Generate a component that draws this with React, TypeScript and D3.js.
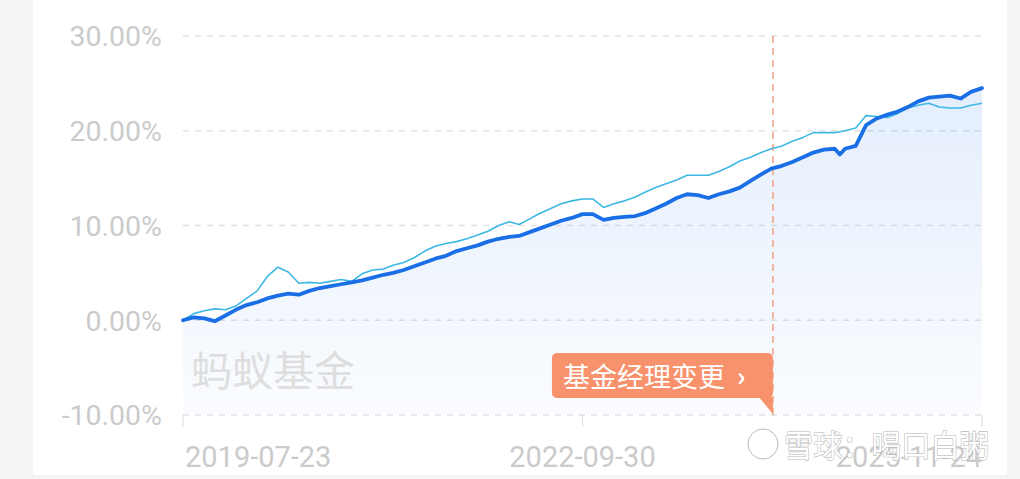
import React from "react";
import * as d3 from "d3";

const dates = [
  "2019-07-23","2019-08-23","2019-09-23","2019-10-23","2019-11-23","2019-12-23",
  "2020-01-23","2020-02-23","2020-03-23","2020-04-23","2020-05-23","2020-06-23",
  "2020-07-23","2020-08-23","2020-09-23","2020-10-23","2020-11-23","2020-12-23",
  "2021-01-23","2021-02-23","2021-03-23","2021-04-23","2021-05-23","2021-06-23",
  "2021-07-23","2021-08-23","2021-09-23","2021-10-23","2021-11-23","2021-12-23",
  "2022-01-23","2022-02-23","2022-03-23","2022-04-23","2022-05-23","2022-06-23",
  "2022-07-23","2022-08-23","2022-09-23","2022-10-23","2022-11-23","2022-12-23",
  "2023-01-23","2023-02-23","2023-03-23","2023-04-23","2023-05-23","2023-06-23",
  "2023-07-23","2023-08-23","2023-09-23","2023-10-23","2023-11-23","2023-12-23",
  "2024-01-23","2024-02-23","2024-03-23","2024-04-23","2024-05-23","2024-06-23",
  "2024-07-23","2024-08-23","2024-09-23","2024-10-08","2024-10-23","2024-11-23",
  "2024-12-23","2025-01-23","2025-02-23","2025-03-23","2025-04-23","2025-05-23",
  "2025-06-23","2025-07-23","2025-08-23","2025-09-23","2025-10-23","2025-11-24",
];

const fundReturn = [
  0.0, 0.3, 0.2, -0.1, 0.5, 1.1,
  1.6, 1.9, 2.3, 2.6, 2.8, 2.7,
  3.1, 3.4, 3.6, 3.8, 4.0, 4.2,
  4.5, 4.8, 5.0, 5.3, 5.7, 6.1,
  6.5, 6.8, 7.3, 7.6, 7.9, 8.3,
  8.6, 8.8, 8.9, 9.3, 9.7, 10.1,
  10.5, 10.8, 11.2, 11.2, 10.6, 10.8,
  10.9, 11.0, 11.3, 11.8, 12.3, 12.9,
  13.3, 13.2, 12.9, 13.3, 13.6, 14.0,
  14.7, 15.4, 16.0, 16.3, 16.7, 17.2,
  17.7, 18.0, 18.1, 17.5, 18.1, 18.4,
  20.6, 21.3, 21.7, 22.0, 22.5, 23.1,
  23.5, 23.6, 23.7, 23.4, 24.1, 24.5,
];

const benchReturn = [
  0.0, 0.7, 1.0, 1.2, 1.1, 1.5,
  2.3, 3.1, 4.6, 5.6, 5.1, 3.9,
  4.0, 3.9, 4.1, 4.3, 4.1, 4.9,
  5.3, 5.4, 5.8, 6.1, 6.6, 7.3,
  7.8, 8.1, 8.3, 8.6, 9.0, 9.4,
  10.0, 10.4, 10.1, 10.7, 11.3, 11.8,
  12.3, 12.6, 12.8, 12.8, 11.9, 12.3,
  12.6, 13.0, 13.5, 14.0, 14.4, 14.8,
  15.3, 15.3, 15.3, 15.7, 16.2, 16.8,
  17.2, 17.7, 18.1, 18.4, 18.9, 19.3,
  19.8, 19.8, 19.8, 19.9, 20.0, 20.3,
  21.6, 21.5, 21.4, 21.8, 22.4, 22.7,
  22.9, 22.5, 22.4, 22.4, 22.7, 22.9,
];

const yTicks = [30, 20, 10, 0, -10];
const xTickLabels = ["2019-07-23", "2022-09-30", "2025-11-24"];
const managerChangeDate = "2024-03-28";
const managerChangeLabel = "基金经理变更";
const brandText = "蚂蚁基金";
const watermarkText = "雪球：喝口白粥";

const W = 1020;
const H = 479;
const parse = d3.timeParse("%Y-%m-%d");

export default function App() {
  const x = d3
    .scaleTime()
    .domain([parse(dates[0])!, parse(dates[dates.length - 1])!])
    .range([183, 982]);
  const y = d3.scaleLinear().domain([-10, 30]).range([415, 36]);

  const pts = dates.map((d, i) => ({ d: parse(d)!, f: fundReturn[i], b: benchReturn[i] }));
  const fundLine = d3.line<any>().x((p) => x(p.d)).y((p) => y(p.f))(pts)!;
  const benchLine = d3.line<any>().x((p) => x(p.d)).y((p) => y(p.b))(pts)!;
  const fundArea = d3
    .area<any>()
    .x((p) => x(p.d))
    .y0(y(-10))
    .y1((p) => y(p.f))(pts)!;

  const mx = x(parse(managerChangeDate)!);
  const numFont = "Roboto, 'Noto Sans', sans-serif";
  const cjkFont = "'Noto Sans CJK SC', sans-serif";
  const x0 = x.range()[0];
  const x1 = x.range()[1];

  return (
    <div style={{ position: "fixed", left: 0, top: 0, width: W, height: H, background: "#f4f4f4" }}>
      <svg width={W} height={H} style={{ display: "block" }}>
        <defs>
          <linearGradient id="fillGrad" x1="0" y1="0" x2="0" y2="1">
            <stop offset="0%" stopColor="#1a6fe6" stopOpacity={0.12} />
            <stop offset="100%" stopColor="#1a6fe6" stopOpacity={0.02} />
          </linearGradient>
        </defs>
        <rect x={33} y={0} width={974} height={475} fill="#ffffff" />

        {/* gridlines */}
        {yTicks.map((t) => (
          <line
            key={t}
            x1={x0}
            x2={x1}
            y1={y(t)}
            y2={y(t)}
            stroke="#e2e2e2"
            strokeWidth={1.3}
            strokeDasharray="6,6"
          />
        ))}

        {/* area */}
        <path d={fundArea} fill="url(#fillGrad)" />

        {/* brand watermark */}
        <text x={191} y={386} fontFamily={cjkFont} fontSize={41} fill="#dcdcdc" opacity={0.9}>
          {brandText}
        </text>

        {/* y labels */}
        {yTicks.map((t) => (
          <text
            key={t}
            x={162}
            y={y(t)}
            dy="0.36em"
            textAnchor="end"
            fontFamily={numFont}
            fontSize={28.5}
            fill="#cbcbcb"
          >
            {t.toFixed(2) + "%"}
          </text>
        ))}

        {/* x axis ticks */}
        {xTickLabels.map((l, i) => {
          const tx = i === 1 ? (x0 + x1) / 2 : i === 0 ? x0 : x1;
          return (
            <g key={l}>
              <line x1={tx} x2={tx} y1={y(-10)} y2={y(-10) + 12} stroke="#e2e2e2" strokeWidth={1.3} />
              <text
                x={tx + (i === 0 ? 2 : 0)}
                y={467}
                textAnchor={i === 0 ? "start" : i === 1 ? "middle" : "end"}
                fontFamily={numFont}
                fontSize={29}
                fill="#cbcbcb"
              >
                {l}
              </text>
            </g>
          );
        })}

        {/* manager change marker */}
        <line x1={mx} x2={mx} y1={y(30)} y2={y(-10)} stroke="#f4a088" strokeWidth={1.5} strokeDasharray="7,5" />

        {/* lines */}
        <path d={benchLine} fill="none" stroke="#3db8e4" strokeWidth={1.6} strokeLinejoin="round" />
        <path d={fundLine} fill="none" stroke="#1a6fe6" strokeWidth={3.8} strokeLinejoin="round" strokeLinecap="round" />

        {/* manager change label */}
        <g>
          <rect x={mx - 221} y={353} width={221} height={45} rx={5} fill="#f8926d" />
          <path d={`M${mx - 14},397 L${mx},397 L${mx},414 Z`} fill="#f8926d" />
          <text x={mx - 210} y={387} fontFamily={cjkFont} fontSize={27} fill="#ffffff">
            {managerChangeLabel}
          </text>
          <text x={mx - 36} y={386} fontFamily={cjkFont} fontSize={26} fontWeight={700} fill="#ffffff">
            ›
          </text>
        </g>

        {/* xueqiu watermark */}
        <g opacity={0.95}>
          <circle cx={763} cy={444} r={15} fill="none" stroke="#ffffff" strokeWidth={4} />
          <circle cx={763} cy={444} r={15} fill="none" stroke="#b8b8b8" strokeWidth={1} />
          <text
            x={784}
            y={457}
            fontFamily={cjkFont}
            fontSize={31}
            fill="#ffffff"
            stroke="#b5b5b5"
            strokeWidth={1.2}
            style={{ paintOrder: "stroke" }}
            textLength={205}
            lengthAdjust="spacingAndGlyphs"
          >
            {watermarkText}
          </text>
        </g>
      </svg>
    </div>
  );
}
